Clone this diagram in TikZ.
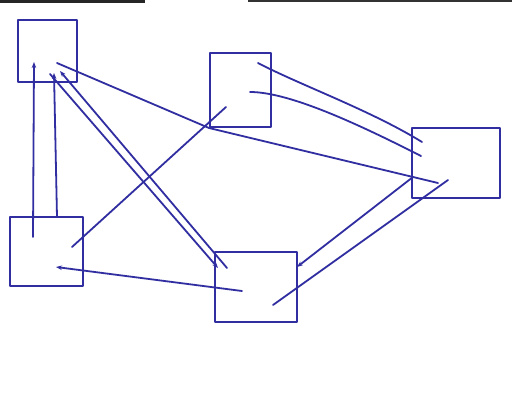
\documentclass[tikz,border=0pt]{standalone}
\usetikzlibrary{arrows.meta}
\definecolor{pen}{RGB}{48,46,160}
\tikzset{
  box/.style={draw=pen, line width=2pt, minimum width=#1, inner sep=0pt, line join=round},
  link/.style={draw=pen, line width=1.8pt, line cap=round},
  arr/.style={link, -{Stealth[length=6pt,width=4.5pt]}},
}
\begin{document}
\begin{tikzpicture}[x=1pt,y=-1pt]
\useasboundingbox (0,0) rectangle (512,407);
\fill[white] (0,0) rectangle (512,407);
% scan artefacts at the top
\fill[black!85] (0,0) rectangle (145,3);
\fill[black!80] (248,0) rectangle (512,2);
% boxes
\node[box=59pt, minimum height=62pt] (A) at (47.5,51) {};
\node[box=61pt, minimum height=74pt] (B) at (240.5,90) {};
\node[box=88pt, minimum height=70pt] (C) at (456,163) {};
\node[box=73pt, minimum height=69pt] (D) at (46.5,251.5) {};
\node[box=82pt, minimum height=70pt] (E) at (256,287) {};
% connector end points
\coordinate (a1) at (34,62);
\coordinate (a2) at (54,73);
\coordinate (a3) at (60,71);
\coordinate (a4) at (50,74);
\coordinate (a5) at (57,63);
\coordinate (b1) at (226,107);
\coordinate (b2) at (258,63);
\coordinate (b3) at (250,92);
\coordinate (c1) at (438,183);
\coordinate (c2) at (422,142);
\coordinate (c3) at (421,156);
\coordinate (c4) at (413,177);
\coordinate (c5) at (448,180);
\coordinate (d1) at (33,237);
\coordinate (d2) at (57,217);
\coordinate (d3) at (72,247);
\coordinate (d4) at (56,267);
\coordinate (e1) at (227,268);
\coordinate (e2) at (218,268);
\coordinate (e3) at (297,267);
\coordinate (e4) at (273,305);
\coordinate (e5) at (242,291);
% connectors
\draw[arr] (d1) -- (a1);
\draw[arr] (d2) -- (a2);
\draw[arr] (e1) -- (a3);
\draw[arr] (a4) -- (e2);
\draw[link] (a5) -- (B.south west) -- (c1);
\draw[link] (d3) -- (b1);
\draw[link] (b2) .. controls (300,85) and (370,110) .. (c2);
\draw[link] (b3) .. controls (290,92) and (360,125) .. (c3);
\draw[arr] (c4) -- (e3);
\draw[link] (e4) -- (c5);
\draw[arr] (e5) -- (d4);
\end{tikzpicture}
\end{document}
